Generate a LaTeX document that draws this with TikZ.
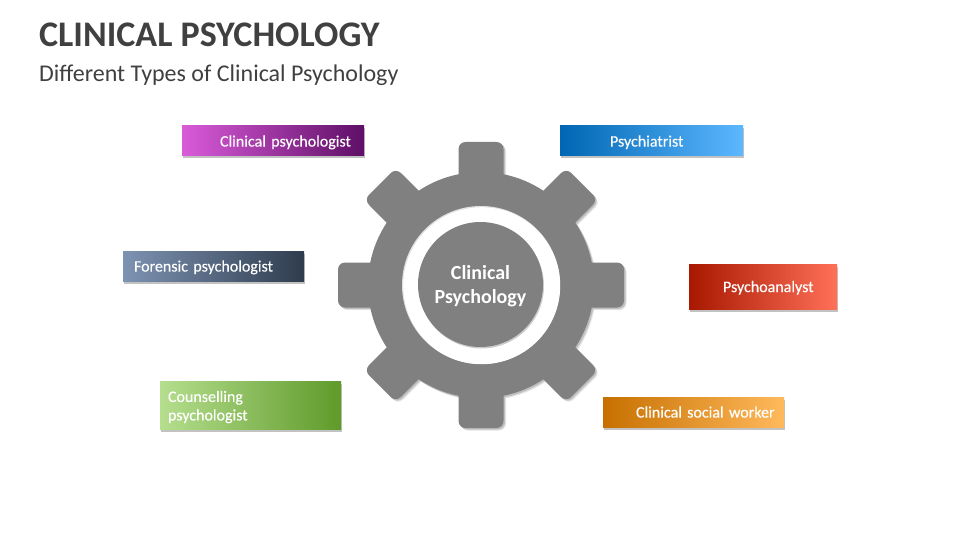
\documentclass[tikz,border=0pt]{standalone}
\usepackage{fontspec}
\setmainfont{Carlito}
\newfontfamily\tagfont[FakeBold=0.25]{Carlito}
\usetikzlibrary{shadows}

\definecolor{gearGray}{HTML}{808080}
\definecolor{titleGray}{HTML}{404040}
\definecolor{clinicalA}{HTML}{D95BD9}
\definecolor{clinicalB}{HTML}{A62CA0}
\definecolor{clinicalC}{HTML}{5E0F66}
\definecolor{psychiatristA}{HTML}{0066B3}
\definecolor{psychiatristB}{HTML}{0099FF}
\definecolor{psychiatristC}{HTML}{5CB8FF}
\definecolor{forensicA}{HTML}{7D93B2}
\definecolor{forensicB}{HTML}{4F6480}
\definecolor{forensicC}{HTML}{2F3C4E}
\definecolor{analystA}{HTML}{A81800}
\definecolor{analystB}{HTML}{FF3300}
\definecolor{analystC}{HTML}{FF7058}
\definecolor{counsellingA}{HTML}{B5DE8E}
\definecolor{counsellingB}{HTML}{92D050}
\definecolor{counsellingC}{HTML}{5F9A2A}
\definecolor{socialA}{HTML}{C77000}
\definecolor{socialB}{HTML}{FF9900}
\definecolor{socialC}{HTML}{FFB95C}

\tikzset{
  tagbox/.style={rectangle, inner xsep=8pt, inner ysep=0pt, outer sep=0pt,
    text=white, align=left, font=\tagfont\fontsize{16}{18.5}\selectfont,
    execute at end node={\par\vspace{-4pt}},
    drop shadow={shadow xshift=1pt, shadow yshift=-2.5pt, fill=black!60, opacity=0.4}},
  tagsize/.style 2 args={minimum width=#1pt, minimum height=#2pt, text width=#1pt-16pt},
  grad/.style={left color=#1A, middle color=#1B, right color=#1C}
}

\begin{document}
\begin{tikzpicture}[x=1pt,y=-1pt]
  \useasboundingbox (0,0) rectangle (960,540);

  \node[anchor=west, text=titleGray, inner sep=0pt, font=\fontsize{36}{40}\selectfont\bfseries] (title) at (39,34.5) {CLINICAL PSYCHOLOGY};
  \node[anchor=west, text=titleGray, inner sep=0pt, font=\fontsize{24}{28}\selectfont] (subtitle) at (39,75) {Different Types of Clinical Psychology};

  % gear: shadow layers first, then the teeth and the ring
  \foreach \off/\col in {2.5/black!10, 1.5/black!25, 0/gearGray} {
    \begin{scope}[shift={(\off,\off)}]
      \foreach \ang in {0,45,...,315} {
        \fill[\col, rounded corners=7, rotate around={\ang:(481,285)}] (458.5,142) rectangle (503.5,195);
      }
      \fill[\col] (481,285) circle (113);
    \end{scope}
  }
  \fill[black!12] (481,285) circle (79);
  \fill[white] (481.7,285.7) circle (78.5);

  \node[circle, fill=gearGray, text=white, inner sep=0pt, minimum size=125pt, align=center, text width=110pt,
    font=\fontsize{20}{24}\selectfont\bfseries, execute at end node={\par\vspace{-4pt}},
    drop shadow={shadow xshift=1pt, shadow yshift=-1.5pt, fill=black!50, opacity=0.4}] (hub) at (480.5,284.5) {Clinical\\Psychology};

  % labels round the gear
  \node[tagbox, tagsize={182}{30}, grad=clinical] (clinical) at (273,141) {\hspace*{30pt}Clinical psychologist};
  \node[tagbox, tagsize={183}{30}, grad=psychiatrist] (psychiatrist) at (651.5,141) {\hspace*{42pt}Psychiatrist};
  \node[tagbox, tagsize={181}{30}, grad=forensic] (forensic) at (213.5,266) {\hspace*{3pt}Forensic psychologist};
  \node[tagbox, tagsize={148}{45}, grad=analyst] (analyst) at (763,286.5) {\hspace*{26pt}Psychoanalyst};
  \node[tagbox, tagsize={181}{48}, grad=counselling] (counselling) at (250.5,405) {Counselling\\psychologist};
  \node[tagbox, tagsize={181}{30}, grad=social] (social) at (693.5,412) {\hspace*{25pt}Clinical social worker};
\end{tikzpicture}
\end{document}
